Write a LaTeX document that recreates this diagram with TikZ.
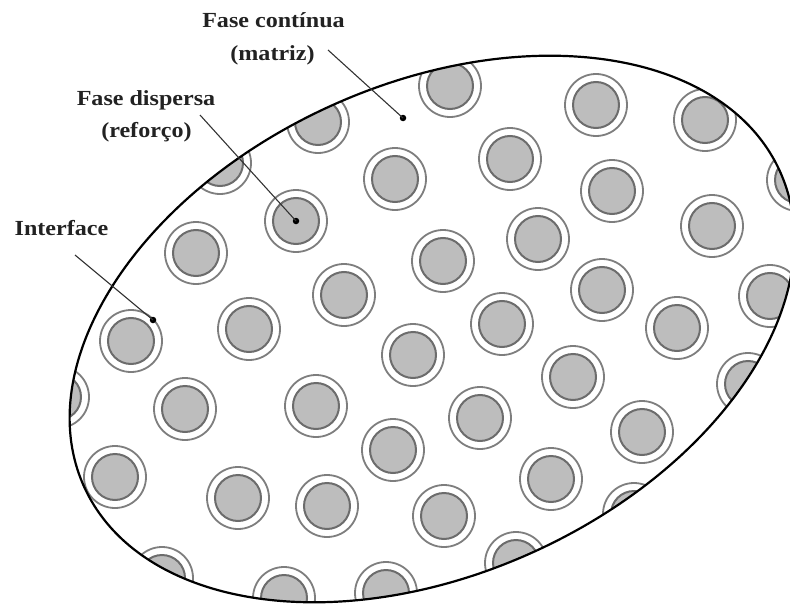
\documentclass[tikz,border=0pt]{standalone}
\usepackage{fontspec}
\newfontfamily\labfont[FakeStretch=1.12]{Liberation Serif}
\definecolor{ringgray}{HTML}{7E7E7E}
\definecolor{coregray}{HTML}{6C6C6C}
\definecolor{fillgray}{HTML}{BDBDBD}
\definecolor{txt}{HTML}{222222}
\definecolor{leadcol}{HTML}{333333}
\begin{document}
\begin{tikzpicture}[x=1pt,y=-1pt,
  ring/.style={draw=ringgray, line width=1.8pt},
  core/.style={draw=coregray, fill=fillgray, line width=2pt},
  lab/.style={font=\labfont\bfseries\fontsize{21.5}{26}\selectfont, text=txt, inner sep=0pt, anchor=base},
  dotmark/.style={circle, fill=black, inner sep=0pt, minimum size=6.5pt},
  leader/.style={draw=leadcol, line width=1.1pt},
  outline/.style={draw=black, line width=2.2pt}]
\path[use as bounding box] (0,0) rectangle (790,610);
\begin{scope}
\clip (0,0) rectangle (790,610);
% particles clipped by the ellipse
\begin{scope}
\clip[rotate around={24.4:(432,329)}] (432,329) ellipse[x radius=382pt, y radius=245pt];
\foreach \x/\y in {318/122, 450/86, 596/105, 705/120, 798/180, 510/159, 612/191,
  395/179, 296/221, 538/239, 443/261, 712/226, 196/253, 344/295, 602/290,
  770/296, 502/324, 677/328, 249/329, 131/341, 413/355, 573/377, 748/384,
  185/409, 316/406, 58/397, 480/418, 642/432, 393/450, 551/479, 115/477,
  238/498, 327/506, 444/516, 634/514, 516/563, 162/578, 284/598, 386/593,
  220/163} {
  \draw[ring] (\x,\y) circle[radius=31pt];
  \draw[core] (\x,\y) circle[radius=23pt];
}
\end{scope}
\draw[outline, rotate around={24.4:(432,329)}] (432,329) ellipse[x radius=382pt, y radius=245pt];
\end{scope}
% labels
\node[lab] (contA) at (273.5,28) {Fase contínua};
\node[lab] (contB) at (272.5,60) {(matriz)};
\node[lab] (dispA) at (146,105) {Fase dispersa};
\node[lab] (dispB) at (146.5,137) {(reforço)};
\node[lab] (intf) at (61.5,235) {Interface};
% dots
\node[dotmark] (mdot) at (403,118) {};
\node[dotmark] (ddot) at (296,221) {};
\node[dotmark] (idot) at (153,320) {};
% leaders
\coordinate (mstart) at (328,50);
\coordinate (dstart) at (200,115);
\coordinate (istart) at (75,255);
\draw[leader] (mstart) -- (mdot.center);
\draw[leader] (dstart) -- (ddot.center);
\draw[leader] (istart) -- (idot.center);
\end{tikzpicture}
\end{document}
